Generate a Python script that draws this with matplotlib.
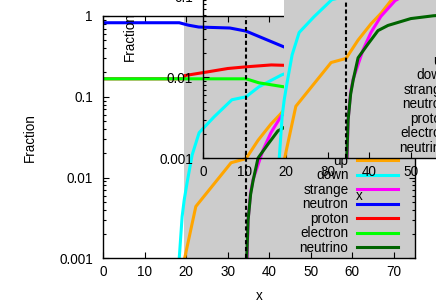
import matplotlib
matplotlib.use("Agg")
import matplotlib.pyplot as plt
from matplotlib.ticker import MultipleLocator, LogLocator, FuncFormatter, NullFormatter

plt.rcParams["font.family"] = ["Liberation Sans", "DejaVu Sans"]
plt.rcParams["font.size"] = 9.75

# particle fractions
up_x = [19.4, 22.3, 30.8, 34.4, 37.3, 40.4, 42.8, 45.2, 50]
up_y = [0.0009, 0.0044, 0.0153, 0.0172, 0.029, 0.046, 0.062, 0.089, 0.12]

down_x = [17.9, 18.3, 19.0, 19.5, 20.2, 21.4, 23.1, 26.7, 31.0, 34.4, 37.5, 43.0, 47]
down_y = [0.0007, 0.001, 0.0033, 0.0053, 0.0087, 0.019, 0.036, 0.0565, 0.092, 0.1, 0.133, 0.187, 0.22]

strange_x = [34.6, 34.9, 35.5, 36.1, 38.5, 40.4, 42.8, 46.2, 50]
strange_y = [0.0008, 0.003, 0.0065, 0.0095, 0.022, 0.036, 0.057, 0.089, 0.115]

neutron_x = [0, 18.3, 20.5, 23.0, 30.5, 34.4, 43.75, 47]
neutron_y = [0.825, 0.825, 0.77, 0.73, 0.71, 0.65, 0.41, 0.36]

proton_x = [0, 19.5, 19.6, 25, 30, 34.4, 40.5, 44, 47]
proton_y = [0.167, 0.167, 0.183, 0.203, 0.224, 0.235, 0.248, 0.245, 0.243]

electron_x = [0, 34.4, 37.5, 43.5, 47]
electron_y = [0.167, 0.167, 0.149, 0.133, 0.127]

neutrino_x = [34.5, 34.9, 35.5, 36.1, 37.3, 39.7, 42.1, 44.5, 50, 55.5, 60]
neutrino_y = [0.0008, 0.003, 0.0062, 0.0092, 0.0175, 0.026, 0.038, 0.044, 0.0535, 0.058, 0.06]

labels = ["up", "down", "strange", "neutron", "proton", "electron", "neutrino"]
colors = ["#ffa500", "#00ffff", "#ff00ff", "#0000ff", "#ff0000", "#00ff00", "#006400"]
series = [(up_x, up_y), (down_x, down_y), (strange_x, strange_y),
          (neutron_x, neutron_y), (proton_x, proton_y),
          (electron_x, electron_y), (neutrino_x, neutrino_y)]

mixed_start = 19.5      # start of shaded region
transition_x = 34.3     # dashed vertical line
x_limits = (0, 75)
y_limits = (0.001, 1)


def draw_panel(ax):
    ax.axvspan(mixed_start, x_limits[1], color="#cccccc", lw=0, zorder=0.5)
    for (xs, ys), c, lab in zip(series, colors, labels):
        ax.plot(xs, ys, color=c, lw=2.2, label=lab)
    ax.axvline(transition_x, color="black", lw=1.5, ls=(0, (2, 1.3)))

    ax.set_yscale("log")
    ax.set_xlim(*x_limits)
    ax.set_ylim(*y_limits)
    ax.xaxis.set_major_locator(MultipleLocator(10))
    ax.yaxis.set_major_locator(LogLocator(base=10))
    ax.yaxis.set_minor_locator(LogLocator(base=10, subs=range(2, 10)))
    ax.yaxis.set_major_formatter(FuncFormatter(lambda v, p: f"{v:g}"))
    ax.yaxis.set_minor_formatter(NullFormatter())
    ax.tick_params(which="both", direction="in", top=True, right=True, width=0.8)
    ax.tick_params(which="major", length=4.3)
    ax.tick_params(which="minor", length=2.2)
    ax.tick_params(axis="x", pad=4.7)
    ax.tick_params(axis="y", pad=7.5)
    for sp in ax.spines.values():
        sp.set_linewidth(1.0)

    ax.set_xlabel("x")
    ax.set_ylabel("Fraction")
    ax.xaxis.set_label_coords(0.5, -0.125)
    ax.yaxis.set_label_coords(-0.213, 0.5)

    ax.legend(loc="lower right", bbox_to_anchor=(0.947, 0.015), frameon=False,
              markerfirst=False, handlelength=3.0, handletextpad=0.66,
              labelspacing=0.037, borderpad=0, borderaxespad=0)


fig = plt.figure(figsize=(4.36, 3.05), dpi=100)
ax = fig.add_axes([0.2369, 0.1525, 0.7138, 0.7951])
draw_panel(ax)

# inset: same plot shifted up and right
ax_in = fig.add_axes([0.4663, 0.481, 0.7138, 0.7951])
ax_in.patch.set_visible(False)
draw_panel(ax_in)

fig.savefig("out.png", dpi=100)
